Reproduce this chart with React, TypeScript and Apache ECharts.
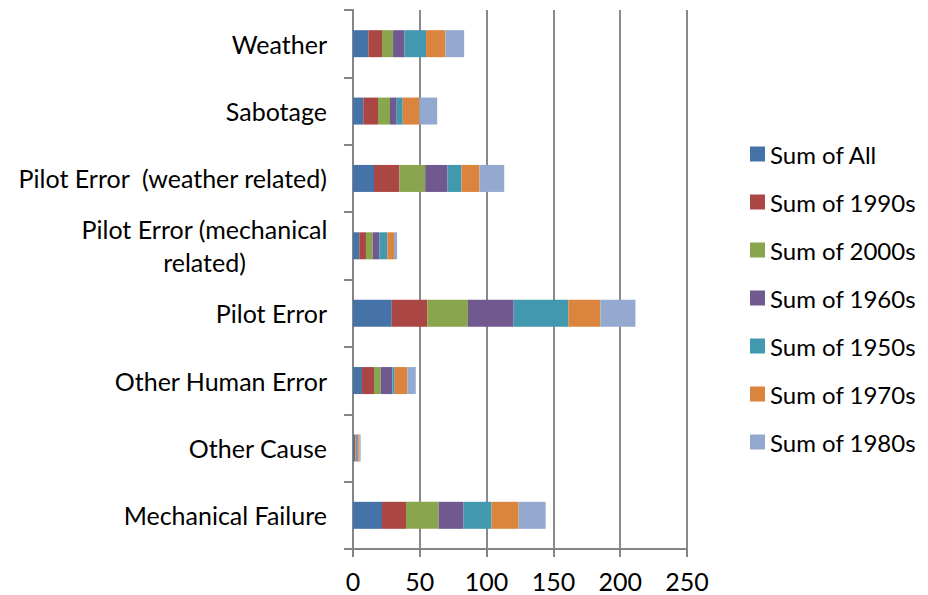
import React, { useEffect, useRef } from "react";
import * as echarts from "echarts";

const categories = [
  "Weather",
  "Sabotage",
  "Pilot Error  (weather related)",
  "Pilot Error (mechanical related)",
  "Pilot Error",
  "Other Human Error",
  "Other Cause",
  "Mechanical Failure",
];

const seriesNames = [
  "Sum of All",
  "Sum of 1990s",
  "Sum of 2000s",
  "Sum of 1960s",
  "Sum of 1950s",
  "Sum of 1970s",
  "Sum of 1980s",
];

// values per series, in category order (top to bottom)
const sumAll = [11.5, 7.7, 15.7, 4.7, 29, 6.7, 0.8, 21.7];
const sum1990s = [10.2, 11, 19, 5, 26.7, 9, 1, 18];
const sum2000s = [8.3, 9, 19.3, 5, 30.3, 5, 0.7, 24.5];
const sum1960s = [8.5, 5, 16.7, 5, 34.2, 8.8, 0.9, 18.5];
const sum1950s = [16.2, 4.5, 10.5, 6, 41, 1.7, 0.6, 21];
const sum1970s = [14.5, 12.5, 13.5, 5, 24, 9.5, 0.9, 20.3];
const sum1980s = [14, 13.3, 18.5, 2.3, 26.2, 6.3, 0.8, 20.2];

const seriesValues = [sumAll, sum1990s, sum2000s, sum1960s, sum1950s, sum1970s, sum1980s];

const xTicks = { min: 0, max: 250, interval: 50 };

const colors = ["#4572A7", "#AA4643", "#89A54E", "#71588F", "#4198AF", "#DB843D", "#93A9CF"];

const FONT = "Lato, 'Liberation Sans', sans-serif";

export default function App() {
  const ref = useRef<HTMLDivElement>(null);

  useEffect(() => {
    document.body.style.margin = "0";
    if (!ref.current) return;
    const chart = echarts.init(ref.current, undefined, { renderer: "svg" });
    chart.setOption({
      animation: false,
      color: colors,
      textStyle: { fontFamily: FONT },
      grid: { left: 353, right: 241, top: 10, bottom: 46, containLabel: false },
      legend: {
        orient: "vertical",
        left: 750,
        top: 142,
        padding: 0,
        itemWidth: 15,
        itemHeight: 15,
        itemGap: 24,
        itemTextGap: 7,
        icon: "rect",
        data: seriesNames,
        textStyle: { fontSize: 24, color: "#000", fontFamily: FONT, lineHeight: 24 },
      },
      xAxis: {
        type: "value",
        min: xTicks.min,
        max: xTicks.max,
        interval: xTicks.interval,
        axisLine: { show: true, lineStyle: { color: "#858585", width: 2 } },
        axisTick: { show: true, length: 8, lineStyle: { color: "#858585", width: 2 } },
        splitLine: { show: true, lineStyle: { color: "#8a8a8a", width: 2 } },
        axisLabel: { fontSize: 25, color: "#000", margin: 19, fontFamily: FONT },
      },
      yAxis: {
        type: "category",
        data: categories,
        inverse: true,
        axisLine: { show: true, lineStyle: { color: "#858585", width: 2 } },
        axisTick: { show: true, length: 9, alignWithLabel: false, lineStyle: { color: "#858585", width: 2 } },
        axisLabel: {
          fontSize: 25,
          color: "#000",
          margin: 26,
          fontFamily: FONT,
          formatter: (v: string) => {
            if (v === "Pilot Error (mechanical related)") {
              return "{c|Pilot Error (mechanical}\n{c|related)}";
            }
            return v;
          },
          rich: {
            c: {
              width: 245,
              align: "center",
              fontSize: 25,
              lineHeight: 33,
              color: "#000",
              fontFamily: FONT,
            },
          },
        },
      },
      series: seriesNames.map((name, i) => ({
        name,
        type: "bar",
        stack: "total",
        barWidth: 27,
        data: seriesValues[i],
      })),
    });
    return () => chart.dispose();
  }, []);

  return <div ref={ref} style={{ width: 928, height: 595 }} />;
}
